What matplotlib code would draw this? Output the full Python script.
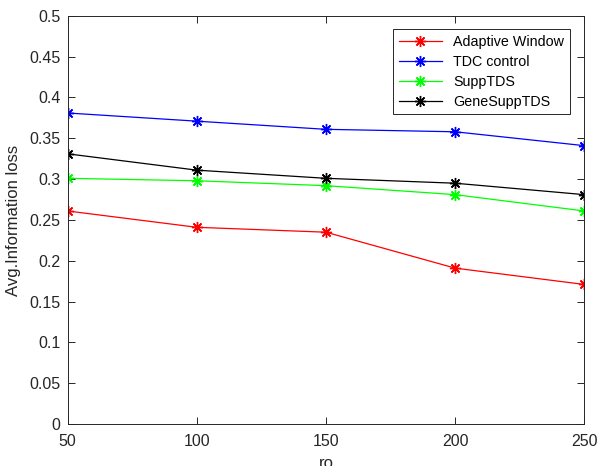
import matplotlib
matplotlib.use("Agg")
import matplotlib.pyplot as plt

plt.rcParams['font.family'] = ['Liberation Sans', 'DejaVu Sans']

ro = [50, 100, 150, 200, 250]
adaptive_window = [0.261, 0.241, 0.235, 0.191, 0.171]
tdc_control = [0.381, 0.371, 0.361, 0.358, 0.341]
supp_tds = [0.301, 0.298, 0.292, 0.281, 0.261]
gene_supp_tds = [0.331, 0.311, 0.301, 0.295, 0.281]

fig = plt.figure(figsize=(5.98, 4.66), dpi=100)
ax = fig.add_axes([0.113, 0.090, 0.864, 0.876])

# matlab style asterisk: 8 spokes
star = (8, 2, 0)
ax.plot(ro, adaptive_window, color='red', marker=star, markersize=8, markeredgewidth=1.0, linewidth=0.9, label='Adaptive Window')
ax.plot(ro, tdc_control, color='blue', marker=star, markersize=8, markeredgewidth=1.0, linewidth=0.9, label='TDC control')
ax.plot(ro, supp_tds, color='#00ff00', marker=star, markersize=8, markeredgewidth=1.0, linewidth=0.9, label='SuppTDS')
ax.plot(ro, gene_supp_tds, color='black', marker=star, markersize=8, markeredgewidth=1.0, linewidth=0.9, label='GeneSuppTDS')

ax.set_xlim(50, 250)
ax.set_ylim(0, 0.5)
ax.set_xticks([50, 100, 150, 200, 250])
ax.set_yticks([0, 0.05, 0.1, 0.15, 0.2, 0.25, 0.3, 0.35, 0.4, 0.45, 0.5])
ax.set_yticklabels(['0', '0.05', '0.1', '0.15', '0.2', '0.25', '0.3', '0.35', '0.4', '0.45', '0.5'])
ax.tick_params(direction='in', top=True, right=True, labelsize=11.5, length=5, width=0.7, colors='#262626')
ax.tick_params(axis='x', pad=7)
ax.tick_params(axis='y', pad=5)
for s in ax.spines.values():
    s.set_linewidth(0.7)
    s.set_color('#262626')

ax.set_xlabel('ro', fontsize=12, color='#262626', labelpad=5)
ax.set_ylabel('Avg.Information loss', fontsize=12, color='#262626', labelpad=6)

leg = ax.legend(loc='upper right', bbox_to_anchor=(0.972, 0.968), borderaxespad=0, fontsize=10.3,
                fancybox=False, edgecolor='#262626', framealpha=1, handlelength=3.0,
                borderpad=0.4, labelspacing=0.42)
leg.get_frame().set_linewidth(0.7)

fig.savefig('out.png', dpi=100)
